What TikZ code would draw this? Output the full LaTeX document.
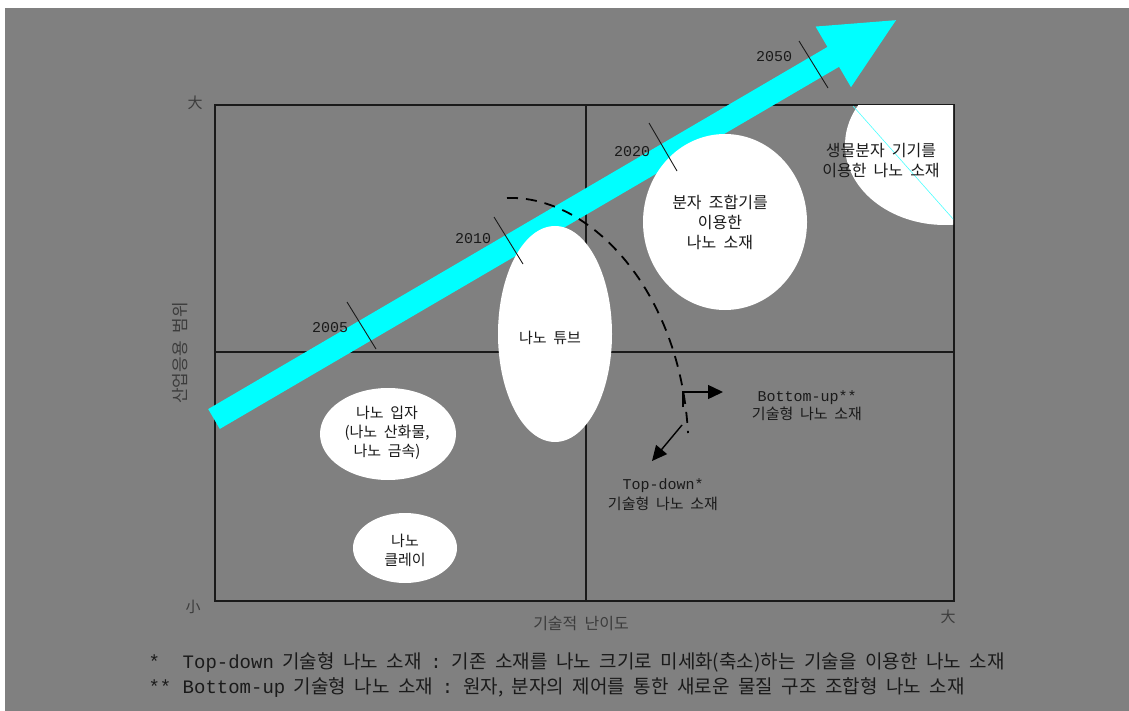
\documentclass[tikz,border=0pt]{standalone}
\usepackage{fontspec}
\setmainfont[WordSpace=2]{Noto Sans CJK KR}
\newfontfamily\lmono{Liberation Mono}
\usetikzlibrary{shapes.geometric,arrows.meta}
\definecolor{bggray}{HTML}{808080}
\definecolor{trendcyan}{HTML}{00FFFF}
\definecolor{ink}{HTML}{1A1A1A}

\begin{document}
\begin{tikzpicture}[x=1pt, y=-1pt,
	frame/.style={draw=ink, line width=1.3pt},
	trend/.style={draw=trendcyan, line width=23pt, -{Triangle[length=75pt, width=64pt]}},
	blob/.style={ellipse, fill=white, inner sep=0pt},
	txt/.style={align=center, text=ink, font=\fontsize{15}{19}\selectfont},
	bigtxt/.style={align=center, text=ink, font=\fontsize{16}{20}\selectfont},
	year/.style={text=ink, font=\lmono\fontsize{15}{15}\selectfont},
	yeartick/.style={draw=ink, line width=0.9pt},
	divide/.style={draw=black, line width=1.8pt, dash pattern=on 11pt off 8pt},
	flow/.style={draw=black, line width=1.4pt, -{Triangle[length=15pt, width=14pt]}},
	axis/.style={text=ink!85, font=\fontsize{15}{15}\selectfont},
	note/.style={anchor=west, text=ink, font=\fontsize{19}{19}\selectfont}]
	\useasboundingbox (0,0) rectangle (1129,711);
	\fill[white] (0,0) rectangle (1129,711);
	\fill[bggray] (5,8) rectangle (1129,711);

	% Draw frame
	\draw[frame] (215,105) rectangle (954,601);
	\draw[frame] (215,352) -- (954,352);
	\draw[frame] (586,105) -- (586,601);

	% Draw trend arrow
	\coordinate (tail) at (214,419);
	\coordinate (tip) at (898,19);
	\draw[trend] (tail) -- (tip);

	% Define nodes
	\node[blob, minimum width=114pt, minimum height=216pt] (tube) at (555,334) {};
	\node[blob, minimum width=164pt, minimum height=176pt] (mol) at (725,222) {};
	\node[blob, minimum width=136pt, minimum height=92pt] (part) at (388,434) {};
	\node[blob, minimum width=104pt, minimum height=70pt] (clay) at (405,548) {};
	\begin{scope}
		\clip (216,106) rectangle (953,600);
		\node[blob, minimum width=200pt, minimum height=160pt] (bio) at (945,145) {};
		\draw[trendcyan!70, line width=0.6pt] (853,106) -- (954,220);
	\end{scope}

	\node[txt] (tubetxt) at (550,338) {나노 튜브};
	\node[bigtxt] (moltxt) at (720,222) {분자 조합기를\\이용한\\나노 소재};
	\node[bigtxt] (biotxt) at (881,161) {생물분자 기기를\\이용한 나노 소재};
	\node[txt] (parttxt) at (387,433) {나노 입자\\(나노 산화물,\\나노 금속)};
	\node[txt] (claytxt) at (405,550) {나노\\클레이};

	% Years
	\draw[yeartick] (347,302) -- (376,349);
	\draw[yeartick] (494,217) -- (523,264);
	\draw[yeartick] (649,123) -- (677,171);
	\draw[yeartick] (799,41) -- (828,88);
	\node[year] (y2005) at (330,328) {2005};
	\node[year] (y2010) at (473,239) {2010};
	\node[year] (y2020) at (632,152) {2020};
	\node[year] (y2050) at (774,57) {2050};

	% Draw edges
	\coordinate (arcstart) at (507,198);
	\coordinate (arcend) at (688,433);
	\draw[divide] (arcstart) .. controls (590,195) and (680,290) .. (arcend);

	\coordinate (bustart) at (683,407);
	\coordinate (buend) at (723,392);
	\draw[flow] (bustart) |- (buend);
	\coordinate (tdstart) at (682,425);
	\coordinate (tdend) at (652,461);
	\draw[flow] (tdstart) -- (tdend);

	\node[txt, font=\fontsize{15}{18}\selectfont] (butxt) at (807,406) {{\lmono Bottom-up**}\\기술형 나노 소재};
	\node[txt, font=\fontsize{15}{20}\selectfont] (tdtxt) at (663,495) {{\lmono Top-down*}\\기술형 나노 소재};

	% Axes
	\node[axis] (big1) at (195,103) {大};
	\node[axis] (small) at (193,607) {小};
	\node[axis] (big2) at (948,617) {大};
	\node[axis, font=\fontsize{16}{16}\selectfont] (xlab) at (581,624) {기술적 난이도};
	\node[axis, font=\fontsize{17}{17}\selectfont, rotate=90] (ylab) at (180,353) {산업응용 범위};

	% Notes
	\node[note] (note1) at (145,663) {{\lmono *~~Top-down} 기술형 나노 소재 {\lmono :} 기존 소재를 나노 크기로 미세화(축소)하는 기술을 이용한 나노 소재};
	\node[note] (note2) at (145,688) {{\lmono **~Bottom-up} 기술형 나노 소재 {\lmono :} 원자, 분자의 제어를 통한 새로운 물질 구조 조합형 나노 소재};
\end{tikzpicture}
\end{document}
